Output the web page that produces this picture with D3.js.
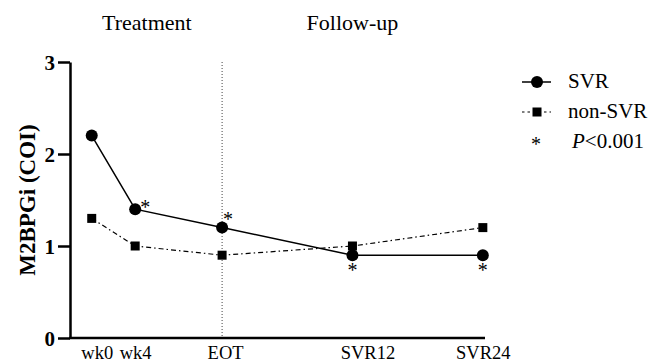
<!DOCTYPE html>
<html>
<head>
<meta charset="utf-8">
<script src="https://cdn.jsdelivr.net/npm/d3@7"></script>
<style>
  body { margin: 0; background: #fff; }
</style>
</head>
<body>
<svg id="chart" width="652" height="364" font-family="Liberation Serif"></svg>
<script>
// time points (weeks from start) and labels
var timeLabels = ['wk0', 'wk4', 'EOT', 'SVR12', 'SVR24'];
var timeWeeks  = [0, 4, 12, 24, 36];
var svr    = [2.2, 1.4, 1.2, 0.9, 0.9];
var nonSvr = [1.3, 1.0, 0.9, 1.0, 1.2];
// where P<0.001 is marked (index into time points)
var sigIndex = [1, 2, 3, 4];
var yTicks = [0, 1, 2, 3];
var phases = ['Treatment', 'Follow-up'];

var
  FONT = 'Liberation Serif',
  svg = d3.select('#chart'),
  plotL = 70, plotR = 485, plotT = 62, plotB = 338,
  xScale = d3.scaleLinear().domain([-2, 36.2]).range([plotL, plotR]),
  yScale = d3.scaleLinear().domain([0, 3]).range([plotB, plotT])
  ;

function rows(vals){
  return vals.map(function(v, i){ return {week: timeWeeks[i], value: v, i: i}; });
}

function txt(sel, size, weight){
  return sel.attr('font-family', FONT)
    .attr('font-size', size)
    .attr('font-weight', weight || 'normal')
    .attr('fill', '#000');
}

var line = d3.line()
  .x(function(d){ return xScale(d.week); })
  .y(function(d){ return yScale(d.value); });

// EOT divider
svg.append('line')
  .attr('x1', xScale(12)).attr('x2', xScale(12))
  .attr('y1', plotT).attr('y2', plotB)
  .attr('stroke', '#444').attr('stroke-width', 1)
  .attr('stroke-dasharray', '1,2');

// phase labels, centred over each phase
var phaseX = [(xScale(0) + xScale(12)) / 2 - 10, xScale(24)];
txt(svg.selectAll('text.phase')
  .data(phases)
  .enter().append('text')
  .attr('class', 'phase')
  .attr('x', function(d, i){ return phaseX[i]; })
  .attr('y', 30)
  .attr('text-anchor', 'middle')
  .text(function(d){ return d; }), 22);

// y axis
var axisY = d3.axisLeft(yScale).tickValues(yTicks).tickFormat(d3.format('d')).tickSize(12).tickSizeOuter(0);
var gy = svg.append('g').attr('transform', 'translate(' + plotL + ',0)').call(axisY)
  .attr('font-family', FONT);
gy.select('.domain').attr('stroke-width', 2.5);
gy.selectAll('.tick line').attr('stroke-width', 2.5);
txt(gy.selectAll('.tick text').attr('x', -15).attr('dy', '0.36em'), 21, 'bold');

// x axis (no ticks)
var labelShift = [5, 0, 3, 15, 0];
var axisX = d3.axisBottom(xScale).tickValues(timeWeeks)
  .tickFormat(function(d, i){ return timeLabels[i]; })
  .tickSize(0).tickSizeOuter(0).tickPadding(0);
var gx = svg.append('g').attr('transform', 'translate(0,' + plotB + ')').call(axisX)
  .attr('font-family', FONT);
gx.select('.domain').attr('stroke-width', 2.5).attr('d', 'M' + (plotL - 1) + ',0H' + plotR);
txt(gx.selectAll('.tick text')
  .attr('dy', null)
  .attr('y', 21)
  .attr('x', function(d, i){ return labelShift[i]; }), 18.5);

// y title
txt(svg.append('text')
  .attr('transform', 'translate(35,' + yScale(1.5) + ') rotate(-90)')
  .attr('text-anchor', 'middle')
  .text('M2BPGi (COI)'), 23, 'bold');

// non-SVR series
svg.append('path')
  .datum(rows(nonSvr))
  .attr('d', line)
  .attr('fill', 'none').attr('stroke', '#000').attr('stroke-width', 1.2)
  .attr('stroke-dasharray', '5,3,1.5,3');
svg.selectAll('rect.nsvr')
  .data(rows(nonSvr))
  .enter().append('rect')
  .attr('class', 'nsvr')
  .attr('x', function(d){ return xScale(d.week) - 4.5; })
  .attr('y', function(d){ return yScale(d.value) - 4.5; })
  .attr('width', 9).attr('height', 9)
  .attr('fill', '#000');

// SVR series
svg.append('path')
  .datum(rows(svr))
  .attr('d', line)
  .attr('fill', 'none').attr('stroke', '#000').attr('stroke-width', 1.5);
svg.selectAll('circle.svr')
  .data(rows(svr))
  .enter().append('circle')
  .attr('class', 'svr')
  .attr('cx', function(d){ return xScale(d.week); })
  .attr('cy', function(d){ return yScale(d.value); })
  .attr('r', 6)
  .attr('fill', '#000');

// significance stars
var starOffset = {1: [10, 5], 2: [6, -2], 3: [0, 22], 4: [0, 22]};
txt(svg.selectAll('text.star')
  .data(rows(svr).filter(function(d){ return sigIndex.indexOf(d.i) >= 0; }))
  .enter().append('text')
  .attr('class', 'star')
  .attr('x', function(d){ return xScale(d.week) + starOffset[d.i][0]; })
  .attr('y', function(d){ return yScale(d.value) + starOffset[d.i][1]; })
  .attr('text-anchor', 'middle')
  .text('*'), 20);

// legend
var lg = svg.append('g').attr('transform', 'translate(522,0)');
lg.append('line').attr('x1', 0).attr('x2', 29).attr('y1', 82).attr('y2', 82)
  .attr('stroke', '#000').attr('stroke-width', 1.5);
lg.append('circle').attr('cx', 15).attr('cy', 82).attr('r', 6).attr('fill', '#000');
txt(lg.append('text').attr('x', 46).attr('y', 88).text('SVR'), 21);

lg.append('line').attr('x1', 0).attr('x2', 29).attr('y1', 112).attr('y2', 112)
  .attr('stroke', '#000').attr('stroke-width', 1.2).attr('stroke-dasharray', '2.5,3');
lg.append('rect').attr('x', 10.5).attr('y', 107.5).attr('width', 9).attr('height', 9).attr('fill', '#000');
txt(lg.append('text').attr('x', 46).attr('y', 118).text('non-SVR'), 21);

txt(lg.append('text').attr('x', 14).attr('y', 151).attr('text-anchor', 'middle').text('*'), 20);
var pt = txt(lg.append('text').attr('x', 50).attr('y', 148), 21);
pt.append('tspan').attr('font-style', 'italic').text('P');
pt.append('tspan').text('<0.001');
</script>
</body>
</html>
